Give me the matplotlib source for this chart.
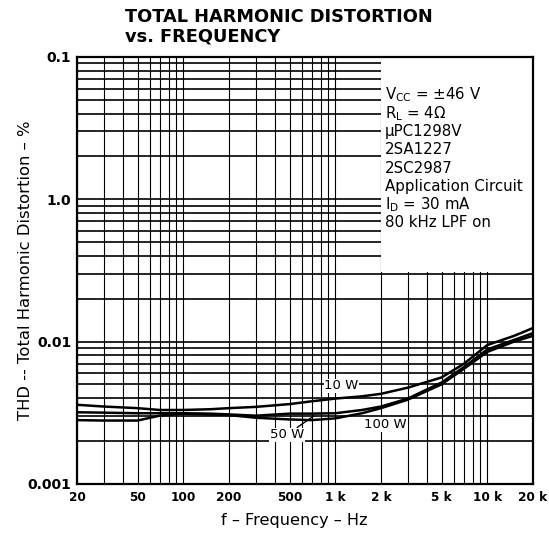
import matplotlib
matplotlib.use("Agg")
import matplotlib.pyplot as plt
from matplotlib.patches import Rectangle
from matplotlib.ticker import FixedLocator, LogLocator, NullFormatter

# ---- data ----
freq_hz = [20, 30, 50, 70, 100, 150, 200, 300, 500, 700, 1000, 1500,
           2000, 3000, 5000, 7000, 10000, 15000, 20000]
thd_10w = [0.00360, 0.00350, 0.00341, 0.00331, 0.00331, 0.00335, 0.00341,
           0.00348, 0.00364, 0.00381, 0.00398, 0.00413, 0.00430, 0.00475,
           0.00560, 0.00698, 0.00946, 0.01098, 0.01247]
thd_50w = [0.00319, 0.00317, 0.00314, 0.00314, 0.00314, 0.00312, 0.00308,
           0.00302, 0.00312, 0.00312, 0.00314, 0.00331, 0.00350, 0.00398,
           0.00516, 0.00661, 0.00881, 0.01028, 0.01148]
thd_100w = [0.00281, 0.00279, 0.00279, 0.00302, 0.00312, 0.00308, 0.00305,
            0.00292, 0.00284, 0.00281, 0.00289, 0.00314, 0.00341, 0.00391,
            0.00501, 0.00643, 0.00847, 0.01000, 0.01098]

x_ticks = [20, 50, 100, 200, 500, 1000, 2000, 5000, 10000, 20000]
x_tick_labels = ["20", "50", "100", "200", "500", "1 k", "2 k", "5 k", "10 k", "20 k"]
y_ticks = [0.001, 0.01, 0.1, 1.0]
y_tick_labels = ["0.001", "0.01", "1.0", "0.1"]

conditions = ["V$_{\\rm CC}$ = \u00b146 V", "R$_{\\rm L}$ = 4\u03a9", "\u03bcPC1298V",
              "2SA1227", "2SC2987", "Application Circuit",
              "I$_{\\rm D}$ = 30 mA", "80 kHz LPF on"]

plt.rcParams['font.family'] = ['DejaVu Sans']
plt.rcParams['mathtext.fontset'] = 'dejavusans'

fig = plt.figure(figsize=(5.49, 5.43), dpi=100)
ax = fig.add_axes([0.1403, 0.1087, 0.8306, 0.7864])
ax.set_xscale('log')
ax.set_yscale('log')
ax.set_xlim(20, 20000)
ax.set_ylim(0.001, 1.0)

ax.xaxis.set_major_locator(FixedLocator(x_ticks))
ax.xaxis.set_minor_locator(LogLocator(base=10, subs=range(1, 10), numticks=50))
ax.xaxis.set_minor_formatter(NullFormatter())
ax.set_xticklabels(x_tick_labels)
ax.yaxis.set_major_locator(FixedLocator(y_ticks))
ax.yaxis.set_minor_locator(LogLocator(base=10, subs=range(1, 10), numticks=50))
ax.yaxis.set_minor_formatter(NullFormatter())
ax.set_yticklabels(y_tick_labels)

ax.set_axisbelow(True)
ax.grid(True, which='both', axis='x', color='black', lw=0.8)
ax.grid(True, which='both', axis='y', color='black', lw=1.2)
ax.tick_params(which='both', length=0)
ax.tick_params(axis='x', labelsize=8.7, pad=5)
ax.tick_params(axis='y', labelsize=10, pad=4)
for lab in ax.get_xticklabels() + ax.get_yticklabels():
    lab.set_fontweight('bold')
for sp in ax.spines.values():
    sp.set_linewidth(1.6)

# white legend area in the upper right
ax.add_patch(Rectangle((2000, 0.031), 20000 - 2000, 1.0 - 0.031,
                       facecolor='white', edgecolor='none', zorder=1))

for vals in (thd_10w, thd_50w, thd_100w):
    ax.plot(freq_hz, vals, color='black', lw=1.8, zorder=3)

lab_kw = dict(fontsize=9.5, zorder=4,
              bbox=dict(facecolor='white', edgecolor='none', pad=0.5))
ax.text(1100, 0.0049, "10 W", ha='center', va='center', **lab_kw)
ax.text(2150, 0.00262, "100 W", ha='center', va='center', **lab_kw)
ax.annotate("50 W", xy=(720, 0.00300), xytext=(480, 0.00222),
            ha='center', va='center', arrowprops=dict(arrowstyle='-', lw=1.0,
                                                       shrinkA=0, shrinkB=0),
            **lab_kw)

for i, line in enumerate(conditions):
    ax.text(0.675, 0.911 - i * 0.0428, line, transform=ax.transAxes,
            ha='left', va='center', fontsize=10.8, zorder=4)

fig.text(0.228, 0.969, "TOTAL HARMONIC DISTORTION", ha='left', va='center',
         fontsize=12.8, fontweight='bold')
fig.text(0.228, 0.932, "vs. FREQUENCY", ha='left', va='center',
         fontsize=12.8, fontweight='bold')
fig.text(0.047, 0.503, "THD -- Total Harmonic Distortion \u2013 %", rotation=90,
         ha='center', va='center', fontsize=11.8)
fig.text(0.536, 0.042, "f \u2013 Frequency \u2013 Hz", ha='center', va='center',
         fontsize=11.6)

fig.savefig("out.png", dpi=100)
